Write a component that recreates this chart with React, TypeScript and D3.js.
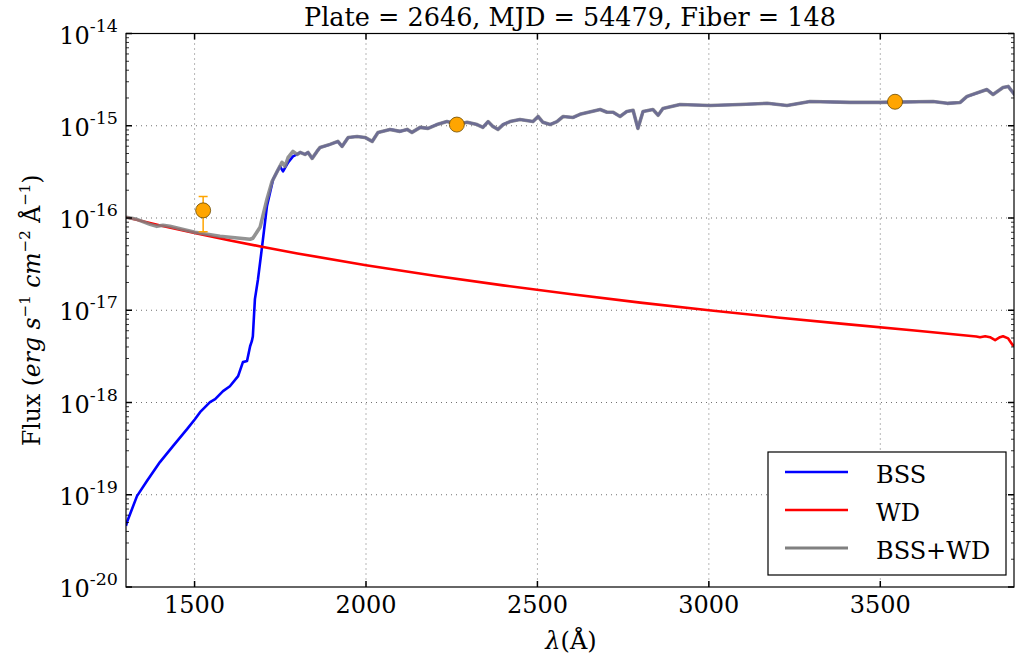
import React from "react";
import * as d3 from "d3";

const TITLE = "Plate = 2646, MJD = 54479, Fiber = 148";
const X_TICKS = [1500, 2000, 2500, 3000, 3500];
const Y_TICK_EXP = [-20, -19, -18, -17, -16, -15, -14];
const X_DOMAIN = [1300, 3890];
const Y_DOMAIN = [1e-20, 1e-14];

// BSS model, blue part below the shared upper spectrum
const BSS_WAVE = [1300, 1303, 1332, 1361, 1399, 1437, 1478, 1501, 1516, 1545, 1560, 1583, 1603, 1627, 1641, 1653, 1662, 1667, 1670, 1676, 1685, 1697, 1711, 1729, 1749, 1758, 1773, 1787, 1799];
const BSS_FLUX = [4.6e-20, 5.06e-20, 9.67e-20, 1.41e-19, 2.26e-19, 3.37e-19, 5.14e-19, 6.59e-19, 7.85e-19, 1.01e-18, 1.09e-18, 1.33e-18, 1.5e-18, 1.93e-18, 2.74e-18, 2.81e-18, 4.07e-18, 4.62e-18, 5.23e-18, 1.32e-17, 2.17e-17, 4.93e-17, 1.34e-16, 2.62e-16, 3.63e-16, 3.2e-16, 4.01e-16, 4.65e-16, 4.89e-16];

// BSS+WD, low part
const SUM_WAVE = [1300, 1332, 1370, 1390, 1408, 1428, 1501, 1574, 1662, 1670, 1691, 1711, 1726, 1741, 1755, 1764, 1773, 1787, 1799];
const SUM_FLUX = [1.02e-16, 9.67e-17, 8.53e-17, 8.12e-17, 8.33e-17, 8.12e-17, 7.0e-17, 6.33e-17, 5.88e-17, 6.03e-17, 7.92e-17, 1.59e-16, 2.49e-16, 3.2e-16, 4.01e-16, 3.63e-16, 4.54e-16, 5.27e-16, 4.89e-16];

// Shared upper spectrum (BSS and BSS+WD overlap)
const SPEC_WAVE = [1808, 1822, 1831, 1843, 1857, 1866, 1895, 1918, 1930, 1948, 1974, 1997, 2018, 2035, 2070, 2099, 2120, 2134, 2158, 2181, 2207, 2236, 2245, 2265, 2295, 2324, 2341, 2356, 2370, 2385, 2400, 2420, 2449, 2487, 2502, 2516, 2537, 2557, 2575, 2604, 2624, 2683, 2703, 2721, 2741, 2761, 2779, 2793, 2808, 2837, 2852, 2866, 2916, 3003, 3091, 3170, 3228, 3295, 3412, 3499, 3654, 3695, 3733, 3753, 3811, 3829, 3858, 3873, 3896];
const SPEC_FLUX = [5.14e-16, 4.89e-16, 5.14e-16, 4.43e-16, 5.27e-16, 5.82e-16, 6.28e-16, 6.76e-16, 5.97e-16, 7.47e-16, 7.66e-16, 7.47e-16, 6.76e-16, 8.47e-16, 9.13e-16, 8.69e-16, 9.13e-16, 8.47e-16, 9.6e-16, 9.36e-16, 1.03e-15, 1.11e-15, 1.09e-15, 1.03e-15, 1.09e-15, 1.03e-15, 9.6e-16, 1.11e-15, 9.84e-16, 9.13e-16, 1.03e-15, 1.11e-15, 1.17e-15, 1.11e-15, 1.26e-15, 1.09e-15, 1.03e-15, 1.11e-15, 1.26e-15, 1.23e-15, 1.33e-15, 1.5e-15, 1.4e-15, 1.4e-15, 1.26e-15, 1.43e-15, 1.47e-15, 9.36e-16, 1.43e-15, 1.5e-15, 1.3e-15, 1.54e-15, 1.7e-15, 1.66e-15, 1.7e-15, 1.75e-15, 1.66e-15, 1.83e-15, 1.79e-15, 1.79e-15, 1.83e-15, 1.75e-15, 1.79e-15, 2.08e-15, 2.47e-15, 2.18e-15, 2.6e-15, 2.67e-15, 2.08e-15];

// WD model
const WD_WAVE = [1300, 1400, 1500, 1600, 1700, 1800, 2000, 2200, 2400, 2600, 2800, 3000, 3200, 3400, 3600, 3780, 3791, 3806, 3820, 3835, 3849, 3858, 3873, 3887, 3896];
const WD_FLUX = [1.02e-16, 8.3e-17, 6.9e-17, 5.75e-17, 4.85e-17, 4.13e-17, 3.08e-17, 2.37e-17, 1.86e-17, 1.49e-17, 1.21e-17, 1.0e-17, 8.36e-18, 7.07e-18, 6.03e-18, 5.2e-18, 5.1e-18, 5.23e-18, 5.1e-18, 4.75e-18, 5.1e-18, 5.23e-18, 4.95e-18, 4.15e-18, 4.28e-18];

// Photometry
const PHOT_WAVE = [1525, 2265, 3543];
const PHOT_FLUX = [1.21e-16, 1.03e-15, 1.82e-15];
const PHOT_ERR = [5.0e-17, 0, 0];

const LEGEND_LABELS = ["BSS", "WD", "BSS+WD"];
const LEGEND_COLORS = ["#0000ff", "#ff0000", "#808080"];

const W = 1016;
const H = 661;
const L = 126, R = 1014, T = 33.5, B = 587;
const FONT = "'DejaVu Serif', serif";

export default function App() {
  const x = d3.scaleLinear().domain(X_DOMAIN).range([L, R]);
  const y = d3.scaleLog().domain(Y_DOMAIN).range([B, T]);

  const line = d3
    .line<[number, number]>()
    .x((d) => x(d[0]))
    .y((d) => y(d[1]));

  const zip = (w: number[], f: number[]) => w.map((v, i) => [v, f[i]] as [number, number]);
  const bss = zip(BSS_WAVE.concat(SPEC_WAVE), BSS_FLUX.concat(SPEC_FLUX));
  const sum = zip(SUM_WAVE.concat(SPEC_WAVE), SUM_FLUX.concat(SPEC_FLUX));
  const wd = zip(WD_WAVE, WD_FLUX);

  const minor: number[] = [];
  for (let e = -20; e < -14; e++) {
    for (let k = 2; k <= 9; k++) minor.push(k * Math.pow(10, e));
  }

  return (
    <svg width={W} height={H} style={{ position: "absolute", left: 0, top: 0, background: "#fff" }} fontFamily={FONT}>
      <defs>
        <clipPath id="plotclip">
          <rect x={L} y={T} width={R - L} height={B - T} />
        </clipPath>
      </defs>
      <rect x={0} y={0} width={W} height={H} fill="#fff" />

      {/* grid */}
      <g stroke="#000" strokeWidth={0.8} strokeDasharray="1,4" opacity={0.7}>
        {X_TICKS.map((t) => (
          <line key={"gx" + t} x1={x(t)} x2={x(t)} y1={T} y2={B} />
        ))}
        {Y_TICK_EXP.slice(1, -1).map((e) => (
          <line key={"gy" + e} x1={L} x2={R} y1={y(Math.pow(10, e))} y2={y(Math.pow(10, e))} />
        ))}
      </g>

      {/* lines */}
      <g clipPath="url(#plotclip)" fill="none" strokeLinejoin="round">
        <path d={line(bss) || ""} stroke="#0000ff" strokeWidth={2.6} />
        <path d={line(wd) || ""} stroke="#ff0000" strokeWidth={2.6} />
        <path d={line(sum) || ""} stroke="#808080" strokeWidth={3.6} opacity={0.85} />
      </g>

      {/* photometry */}
      <g>
        {PHOT_WAVE.map((w, i) =>
          PHOT_ERR[i] > 0 ? (
            <g key={"eb" + i} stroke="#ffa500" strokeWidth={1.5}>
              <line x1={x(w)} x2={x(w)} y1={y(PHOT_FLUX[i] + PHOT_ERR[i])} y2={y(PHOT_FLUX[i] - PHOT_ERR[i])} />
              <line x1={x(w) - 4.5} x2={x(w) + 4.5} y1={y(PHOT_FLUX[i] + PHOT_ERR[i])} y2={y(PHOT_FLUX[i] + PHOT_ERR[i])} />
              <line x1={x(w) - 4.5} x2={x(w) + 4.5} y1={y(PHOT_FLUX[i] - PHOT_ERR[i])} y2={y(PHOT_FLUX[i] - PHOT_ERR[i])} />
            </g>
          ) : null
        )}
        {PHOT_WAVE.map((w, i) => (
          <circle key={"pt" + i} cx={x(w)} cy={y(PHOT_FLUX[i])} r={7.5} fill="#ffa500" stroke="#6b4a00" strokeWidth={0.8} />
        ))}
      </g>

      {/* spines */}
      <rect x={L} y={T} width={R - L} height={B - T} fill="none" stroke="#000" strokeWidth={1.2} />

      {/* ticks */}
      <g stroke="#000">
        {X_TICKS.map((t) => (
          <g key={"xt" + t} strokeWidth={1.5}>
            <line x1={x(t)} x2={x(t)} y1={B} y2={B - 6} />
            <line x1={x(t)} x2={x(t)} y1={T} y2={T + 6} />
          </g>
        ))}
        {Y_TICK_EXP.map((e) => (
          <g key={"yt" + e} strokeWidth={1.5}>
            <line x1={L} x2={L + 6} y1={y(Math.pow(10, e))} y2={y(Math.pow(10, e))} />
            <line x1={R} x2={R - 6} y1={y(Math.pow(10, e))} y2={y(Math.pow(10, e))} />
          </g>
        ))}
        {minor.map((m, i) => (
          <g key={"mt" + i} strokeWidth={0.8}>
            <line x1={L} x2={L + 3} y1={y(m)} y2={y(m)} />
            <line x1={R} x2={R - 3} y1={y(m)} y2={y(m)} />
          </g>
        ))}
      </g>

      {/* tick labels */}
      <g fontSize={24} fill="#000">
        {X_TICKS.map((t) => (
          <text key={"xl" + t} x={x(t)} y={613} textAnchor="middle">
            {t}
          </text>
        ))}
        {Y_TICK_EXP.map((e) => (
          <text key={"yl" + e} x={118} y={y(Math.pow(10, e)) + 10} textAnchor="end">
            <tspan>10</tspan>
            <tspan dy={-12} fontSize={17.5}>{String(e)}</tspan>
          </text>
        ))}
      </g>

      {/* title */}
      <text x={(L + R) / 2} y={26} textAnchor="middle" fontSize={25.5}>
        {TITLE}
      </text>

      {/* x label */}
      <text x={571} y={649} textAnchor="middle" fontSize={24}>
        <tspan fontStyle="italic">λ</tspan>
        <tspan>(Å)</tspan>
      </text>

      {/* y label */}
      <text transform={`translate(40,${(T + B) / 2}) rotate(-90)`} textAnchor="middle" fontSize={23.5}>
        <tspan>Flux (</tspan>
        <tspan fontStyle="italic">erg s</tspan>
        <tspan dy={-10} fontSize={15}>−1</tspan>
        <tspan dy={10} fontStyle="italic"> cm</tspan>
        <tspan dy={-10} fontSize={15}>−2</tspan>
        <tspan dy={10}> Å</tspan>
        <tspan dy={-10} fontSize={15}>−1</tspan>
        <tspan dy={10}>)</tspan>
      </text>

      {/* legend */}
      <g>
        <rect x={768} y={452} width={238} height={123} fill="#fff" stroke="#000" strokeWidth={1.2} />
        {LEGEND_LABELS.map((lab, i) => (
          <g key={"lg" + i}>
            <line x1={785} x2={848} y1={472 + i * 38} y2={472 + i * 38} stroke={LEGEND_COLORS[i]} strokeWidth={i === 2 ? 3 : 2.5} />
            <text x={876} y={483 + i * 38} fontSize={24}>
              {lab}
            </text>
          </g>
        ))}
      </g>
    </svg>
  );
}
